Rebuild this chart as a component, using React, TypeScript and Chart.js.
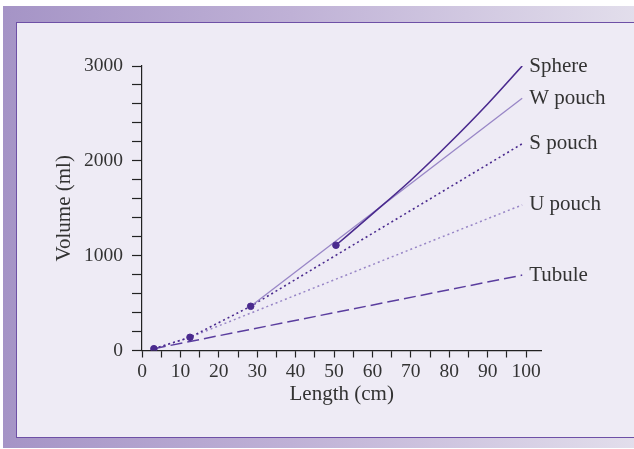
import React, { useEffect, useRef } from "react";
import { Chart, registerables } from "chart.js";

Chart.register(...registerables);

// Measured points (length cm, volume ml)
const measuredLength = [3.1, 12.5, 28.3, 50.5];
const measuredVolume = [19, 139, 466, 1110];

const sphereLength = [50.5, 60, 70, 80, 90, 99];
const sphereVolume = [1110, 1440, 1795, 2185, 2600, 3000];

const wPouchLength = [28.3, 99];
const wPouchVolume = [466, 2660];

const sPouchLength = [3.1, 12.5, 28.3, 99];
const sPouchVolume = [19, 139, 466, 2180];

const uPouchLength = [3.1, 12.5, 99];
const uPouchVolume = [19, 139, 1535];

const tubuleLength = [3.1, 99];
const tubuleVolume = [19, 795];

const seriesNames = ["Sphere", "W pouch", "S pouch", "U pouch", "Tubule"];
const xTickLabels = [0, 10, 20, 30, 40, 50, 60, 70, 80, 90, 100];
const yTickLabels = [0, 1000, 2000, 3000];

const xTitle = "Length (cm)";
const yTitle = "Volume (ml)";

const DARK = "#4a2a8e";
const LIGHT = "#9886c6";
const TEXT = "#333333";
const FONT = "'Liberation Serif', 'Times New Roman', serif";

const pts = (xs: number[], ys: number[]) => xs.map((x, i) => ({ x, y: ys[i] }));

const endLabelPlugin = {
  id: "endLabels",
  afterDatasetsDraw(chart: any) {
    const ctx = chart.ctx;
    ctx.save();
    ctx.font = `21px ${FONT}`;
    ctx.fillStyle = TEXT;
    ctx.textAlign = "left";
    ctx.textBaseline = "middle";
    chart.data.datasets.forEach((ds: any, i: number) => {
      if (!ds.endLabel) return;
      const meta = chart.getDatasetMeta(i);
      const last = meta.data[meta.data.length - 1];
      if (!last) return;
      ctx.fillText(ds.endLabel, last.x + 7, last.y);
    });
    ctx.restore();
  },
};

function ChartCanvas() {
  const ref = useRef<HTMLCanvasElement | null>(null);
  useEffect(() => {
    if (!ref.current) return;
    const chart = new Chart(ref.current, {
      type: "line",
      data: {
        datasets: [
          {
            label: "Measured",
            data: pts(measuredLength, measuredVolume),
            showLine: false,
            pointRadius: 3.3,
            pointBackgroundColor: DARK,
            pointBorderColor: DARK,
            borderColor: DARK,
          },
          {
            label: seriesNames[0],
            endLabel: seriesNames[0],
            data: pts(sphereLength, sphereVolume),
            borderColor: DARK,
            borderWidth: 1.6,
            pointRadius: 0,
            cubicInterpolationMode: "monotone",
          },
          {
            label: seriesNames[1],
            endLabel: seriesNames[1],
            data: pts(wPouchLength, wPouchVolume),
            borderColor: LIGHT,
            borderWidth: 1.3,
            pointRadius: 0,
          },
          {
            label: seriesNames[2],
            endLabel: seriesNames[2],
            data: pts(sPouchLength, sPouchVolume),
            borderColor: DARK,
            borderWidth: 1.6,
            borderDash: [2, 3],
            pointRadius: 0,
          },
          {
            label: seriesNames[3],
            endLabel: seriesNames[3],
            data: pts(uPouchLength, uPouchVolume),
            borderColor: LIGHT,
            borderWidth: 1.5,
            borderDash: [2, 3],
            pointRadius: 0,
          },
          {
            label: seriesNames[4],
            endLabel: seriesNames[4],
            data: pts(tubuleLength, tubuleVolume),
            borderColor: "#5a3d9e",
            borderWidth: 1.5,
            borderDash: [12, 5],
            pointRadius: 0,
          },
        ] as any,
      },
      options: {
        animation: false,
        responsive: false,
        devicePixelRatio: 1,
        layout: { padding: { left: 0, top: 66, right: 92.6, bottom: 0 } },
        plugins: { legend: { display: false }, tooltip: { enabled: false } },
        scales: {
          x: {
            type: "linear",
            min: 0,
            max: 104,
            afterFit: (s: any) => {
              s.height = 98.5;
            },
            ticks: {
              stepSize: 5,
              autoSkip: false,
              includeBounds: false,
              maxRotation: 0,
              padding: 3,
              color: TEXT,
              font: { family: FONT, size: 19.5 },
              callback: (v: any) => (xTickLabels.includes(v) ? String(v) : ""),
            },
            grid: {
              drawOnChartArea: false,
              drawTicks: true,
              tickLength: 7,
              tickColor: "#222",
              tickWidth: 1.2,
            },
            border: { display: true, color: "#222", width: 1.2 },
            title: {
              display: true,
              text: xTitle,
              color: TEXT,
              font: { family: FONT, size: 21 },
              padding: { top: 0, bottom: 42 },
            },
          },
          y: {
            type: "linear",
            min: 0,
            max: 3000,
            afterFit: (s: any) => {
              s.width = 142;
            },
            ticks: {
              stepSize: 200,
              autoSkip: false,
              padding: 9,
              color: TEXT,
              font: { family: FONT, size: 19.5 },
              callback: (v: any) => (yTickLabels.includes(v) ? String(v) : ""),
            },
            grid: {
              drawOnChartArea: false,
              drawTicks: true,
              tickLength: 10,
              tickColor: "#222",
              tickWidth: 1.2,
            },
            border: { display: true, color: "#222", width: 1.2 },
            title: {
              display: true,
              text: yTitle,
              color: TEXT,
              font: { family: FONT, size: 21 },
              padding: { top: 51.4, bottom: 0 },
            },
          },
        },
      } as any,
      plugins: [endLabelPlugin],
    });
    return () => chart.destroy();
  }, []);
  return (
    <canvas
      ref={ref}
      width={634}
      height={449}
      style={{ position: "absolute", left: 0, top: 0, width: 634, height: 449 }}
    />
  );
}

export default function App() {
  return (
    <div
      style={{
        position: "fixed",
        left: 0,
        top: 0,
        width: 634,
        height: 449,
        background: "#ffffff",
        overflow: "hidden",
      }}
    >
      <div
        style={{
          position: "absolute",
          left: 3,
          top: 6,
          width: 640,
          height: 442,
          background: "linear-gradient(to right, #a594c6 0%, #bfb1d6 45%, #e3dfec 100%)",
        }}
      />
      <div
        style={{
          position: "absolute",
          left: 16,
          top: 22,
          width: 640,
          height: 414,
          background: "#eeebf5",
          border: "1.5px solid #6e50a6",
        }}
      />
      <ChartCanvas />
    </div>
  );
}
